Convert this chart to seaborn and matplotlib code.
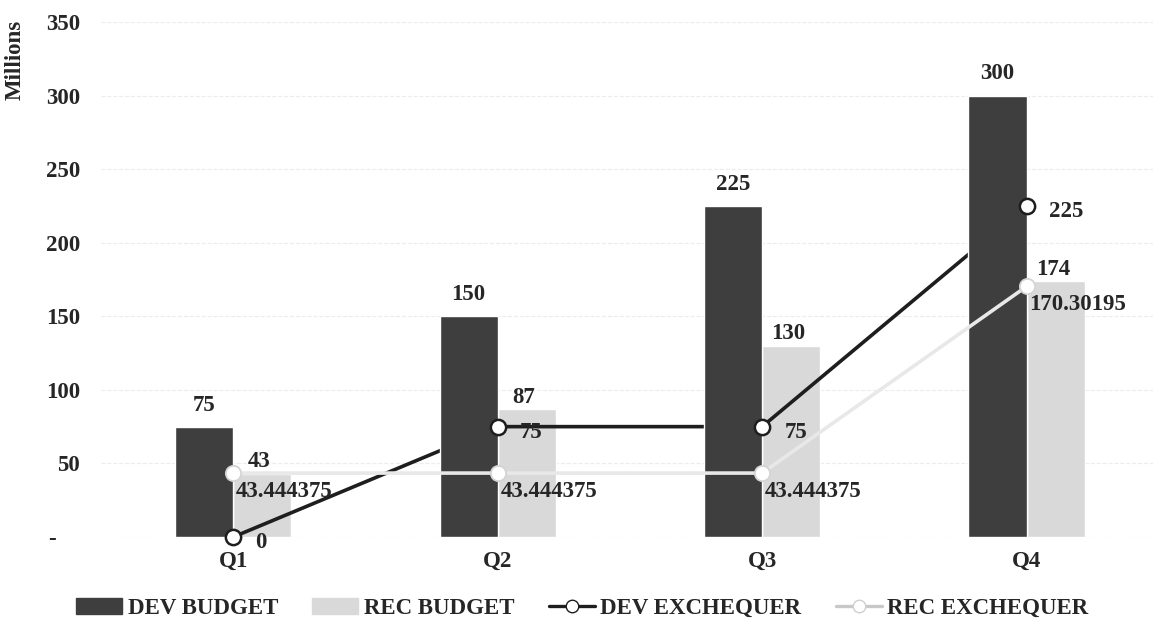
#! /usr/bin/env python3

# %% Setup
import numpy as np
import pandas as pd
import matplotlib.pyplot as plt
from matplotlib.lines import Line2D
from matplotlib.patches import Patch
import seaborn as sns

quarters = ["Q1", "Q2", "Q3", "Q4"]
dev_budget = [75, 150, 225, 300]
rec_budget = [43, 87, 130, 174]
dev_exchequer = [0, 75, 75, 225]
rec_exchequer = [43.444375, 43.444375, 43.444375, 170.30195]
rec_exch_labels = ["43.444375", "43.444375", "43.444375", "170.30195"]

devgray = "#3e3e3e"
recgray = "#d9d9d9"
devline = "#1e1e1e"
recline = "#e8e8e8"

sns.set_theme(style="white")
plt.rcParams["font.family"] = ["Liberation Serif", "DejaVu Serif"]
plt.rcParams["font.weight"] = "bold"

df = pd.DataFrame({
    "quarter": quarters * 2,
    "value": dev_budget + rec_budget,
    "series": ["DEV BUDGET"] * 4 + ["REC BUDGET"] * 4,
})

# %% Figure
fig = plt.figure(figsize=(11.53, 6.25), dpi=100)
ax = fig.add_axes([101 / 1153, 0.1408, 1 - 101 / 1153, 0.824])

sns.barplot(
    data=df, x="quarter", y="value", hue="series",
    palette=[devgray, recgray], width=0.44, gap=0,
    saturation=1, legend=False, ax=ax,
)
# rec bars at the back, dev bars in front of the dev line
for p in ax.containers[0]:
    p.set_zorder(2)
for p in ax.containers[1]:
    p.set_zorder(1)

xs = np.arange(len(quarters))

sns.lineplot(x=xs, y=dev_exchequer, color=devline, linewidth=2.6, ax=ax, zorder=1.5)
ax.plot(xs, dev_exchequer, linestyle="none", marker="o", markersize=11,
        markerfacecolor="white", markeredgecolor=devline, markeredgewidth=1.8,
        zorder=4, clip_on=False)

sns.lineplot(x=xs, y=rec_exchequer, color=recline, linewidth=2.6, ax=ax, zorder=3)
ax.plot(xs, rec_exchequer, linestyle="none", marker="o", markersize=11,
        markerfacecolor="white", markeredgecolor="#d4d4d4", markeredgewidth=1.3,
        zorder=4)

# %% Labels
fs = 16.5
for i, v in enumerate(dev_budget):
    ax.annotate(str(v), (i - 0.11, v), xytext=(0, 8), textcoords="offset points",
                ha="center", va="bottom", fontsize=fs, fontweight="bold")
for i, v in enumerate(rec_budget):
    ax.annotate(str(v), (i + 0.11, v), xytext=(-2, 1), textcoords="offset points",
                ha="center", va="bottom", fontsize=fs, fontweight="bold")
for i, v in enumerate(dev_exchequer):
    ax.annotate(str(v), (i, v), xytext=(16, -4), textcoords="offset points",
                ha="left", va="center", fontsize=fs, fontweight="bold")
for i, v in enumerate(rec_exchequer):
    ax.annotate(rec_exch_labels[i], (i, v), xytext=(2, -13), textcoords="offset points",
                ha="left", va="center", fontsize=fs, fontweight="bold")

# %% Axes
ax.set_xlim(-0.5, 3.478)
ax.set_ylim(0, 350)
ax.set_yticks(range(0, 351, 50))
ax.set_yticklabels(["-    "] + [str(t) for t in range(50, 351, 50)])
ax.tick_params(axis="both", length=0, labelsize=fs)
ax.tick_params(axis="x", pad=10)
ax.tick_params(axis="y", pad=15)
for lbl in ax.get_xticklabels() + ax.get_yticklabels():
    lbl.set_fontweight("bold")
ax.set_xlabel("")
ax.set_ylabel("")
fig.text(0.013, 0.968, "Millions", rotation=90, ha="center", va="top",
         fontsize=fs, fontweight="bold")
ax.yaxis.grid(True, color="#ececec", linewidth=0.8, linestyle="--")
ax.set_axisbelow(True)
for s in ax.spines.values():
    s.set_visible(False)

handles = [
    Patch(facecolor=devgray, edgecolor=devgray),
    Patch(facecolor=recgray, edgecolor=recgray),
    Line2D([], [], color=devline, linewidth=2.4, marker="o", markersize=9,
           markerfacecolor="white", markeredgecolor=devline),
    Line2D([], [], color="#c8c8c8", linewidth=2.4, marker="o", markersize=9,
           markerfacecolor="white", markeredgecolor="#d0d0d0"),
]
names = ["DEV BUDGET", "REC BUDGET", "DEV EXCHEQUER", "REC EXCHEQUER"]
fig.legend(handles, names, loc="center", bbox_to_anchor=(0.505, 0.027), ncol=4,
           frameon=False, handlelength=2.0, handletextpad=0.25,
           columnspacing=1.5, prop={"weight": "bold", "size": fs})

plt.savefig("out.png", dpi=100)
